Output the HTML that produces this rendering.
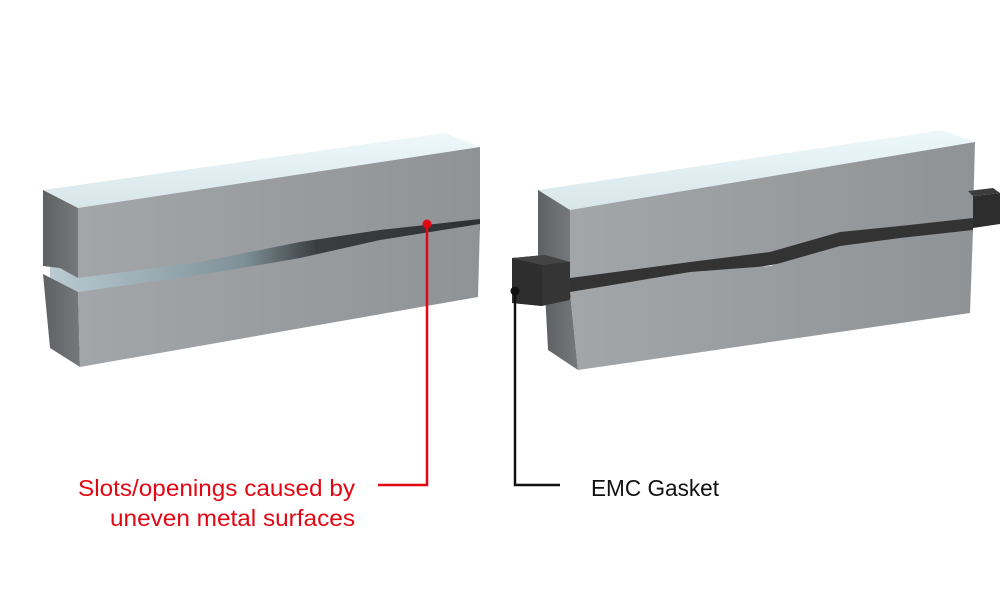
<!DOCTYPE html>
<html><head><meta charset="utf-8"><style>
html,body{margin:0;padding:0;background:#fff;width:1000px;height:600px;overflow:hidden}
svg{display:block}
text{font-family:"Liberation Sans",sans-serif;font-size:23px}
</style></head><body>
<svg width="1000" height="600" viewBox="0 0 1000 600" xmlns="http://www.w3.org/2000/svg">
<defs>
<linearGradient id="top" x1="0" y1="1" x2="0" y2="0"><stop offset="0" stop-color="#d7e6ea"/><stop offset="1" stop-color="#eef8fa"/></linearGradient>
<linearGradient id="front" x1="0" y1="0" x2="1" y2="0"><stop offset="0" stop-color="#a3a6a9"/><stop offset="1" stop-color="#909396"/></linearGradient>
<linearGradient id="side" x1="0" y1="0" x2="1" y2="0"><stop offset="0" stop-color="#5e6164"/><stop offset="1" stop-color="#76797c"/></linearGradient>
<linearGradient id="slot" x1="0" y1="0" x2="1" y2="0"><stop offset="0" stop-color="#b9cbd2"/><stop offset="0.45" stop-color="#7f9097"/><stop offset="0.62" stop-color="#3a3e41"/><stop offset="1" stop-color="#2e3134"/></linearGradient>
</defs>
<!-- LEFT BAR -->
<polygon points="50,262 78,270 480,212 480,230 78,300 50,282" fill="url(#slot)"/>
<polygon points="43,190 78,208 480,147 445,133" fill="url(#top)"/>
<polygon points="43,190 78,208 78,278 60,268 43,266" fill="url(#side)"/>
<polygon points="78,208 480,147 480,219 380,230 300,242 200,262 78,278" fill="url(#front)"/>
<polygon points="43,274 78,292 80,367 50,348" fill="url(#side)"/>
<polygon points="78,292 200,275 300,258 380,240 480,224 478,297 80,367" fill="url(#front)"/>
<!-- RIGHT BAR -->
<polygon points="538,190 570,210 975,142 942,130" fill="url(#top)"/>
<polygon points="538,190 570,210 570,278 538,268" fill="url(#side)"/>
<polygon points="545,292 570,292 578,370 548,350" fill="url(#side)"/>
<polygon points="570,270 973,212 973,232 570,298" fill="#333"/>
<polygon points="570,210 975,142 973,218 900,226 840,232 770,252 690,262 570,278" fill="url(#front)"/>
<polygon points="570,292 690,272 770,266 840,246 900,238 973,230 970,313 578,370" fill="url(#front)"/>
<!-- gasket ends -->
<polygon points="973,196 1000,193 1000,224 973,228" fill="#2d2d2d"/>
<polygon points="968,191 993,188 1000,193 973,196" fill="#3c3c3c"/>
<polygon points="512,258 545,255 570,262 570,300 542,306 512,303" fill="#353535"/>
<polygon points="512,258 542,265 542,306 512,303" fill="#2e2e2e"/>
<polygon points="512,258 545,255 570,262 542,265" fill="#444"/>
<!-- callouts -->
<circle cx="427" cy="224" r="4.5" fill="#e30613"/>
<polyline points="427,224 427,485 378,485" fill="none" stroke="#e30613" stroke-width="2.5"/>
<circle cx="515" cy="291" r="4.5" fill="#111"/>
<polyline points="515,291 515,485 560,485" fill="none" stroke="#111" stroke-width="2.5"/>
<text x="78" y="496" fill="#e30613" textLength="277" lengthAdjust="spacingAndGlyphs">Slots/openings caused by</text>
<text x="110" y="526" fill="#e30613" textLength="245" lengthAdjust="spacingAndGlyphs">uneven metal surfaces</text>
<text x="591" y="496" fill="#111" textLength="128" lengthAdjust="spacingAndGlyphs">EMC Gasket</text>
</svg>
</body></html>
